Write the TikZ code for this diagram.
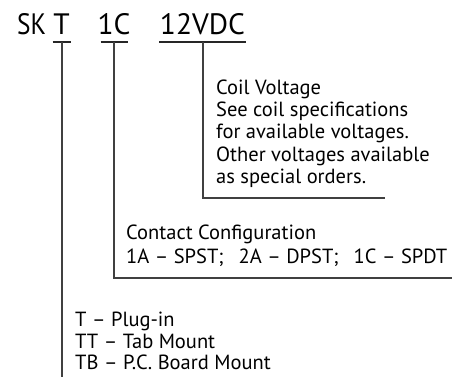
\documentclass[tikz,border=0pt]{standalone}
\usepackage{fontspec}
\setmainfont{PT Sans}
\begin{document}
\begin{tikzpicture}[x=1pt,y=-1pt,
  ttl/.style={inner sep=0pt,anchor=base,font=\fontsize{29.5}{34}\selectfont},
  desc/.style={inner sep=0pt,anchor=base west,font=\fontsize{20.5}{24}\selectfont},
  uline/.style={line width=1.8pt,draw=black!85},
  conn/.style={line width=1.1pt,draw=black!75}]
\useasboundingbox (0,0) rectangle (455,377);
% title
\node[ttl,anchor=base west,xscale=0.86] (sk) at (17,35) {SK};
\node[ttl] (t) at (61.5,35) {T};
\node[ttl] (oc) at (114,35) {1C};
\node[ttl] (vdc) at (202.5,35) {12VDC};
% underlines
\draw[uline] (52.5,42) coordinate (tl) -- (70.5,42) coordinate (tr);
\draw[uline] (100.5,42) coordinate (ol) -- (127.5,42) coordinate (or);
\draw[uline] (159,42) coordinate (vl) -- (246,42) coordinate (vr);
% coil voltage
\node[desc] (c1) at (216,95) {Coil Voltage};
\node[desc] (c2) at (216,117) {See coil specifications};
\node[desc] (c3) at (216,139) {for available voltages.};
\node[desc] (c4) at (216,161) {Other voltages available};
\node[desc] (c5) at (216,183) {as special orders.};
\coordinate (ctop) at (203,42);
\coordinate (ccorner) at (203,198);
\coordinate (cend) at (385,198);
\draw[conn] (ctop) -- (ccorner) -- (cend);
% contact configuration
\node[desc] (k1) at (126,239) {Contact Configuration};
\node[desc] (k2) at (126,263) {1A~– SPST;\hspace{15pt}2A~– DPST;\hspace{15pt}1C~– SPDT};
\coordinate (ktop) at (114,42);
\coordinate (kcorner) at (114,278);
\coordinate (kend) at (452,278);
\draw[conn] (ktop) -- (kcorner) -- (kend);
% termination
\node[desc] (m1) at (75,326.5) {T~– Plug-in};
\node[desc] (m2) at (75,348) {TT~– Tab Mount};
\node[desc] (m3) at (75,369) {TB~– P.C. Board Mount};
\coordinate (mtop) at (62,42);
\coordinate (mend) at (62,377);
\draw[conn] (mtop) -- (mend);
\end{tikzpicture}
\end{document}
